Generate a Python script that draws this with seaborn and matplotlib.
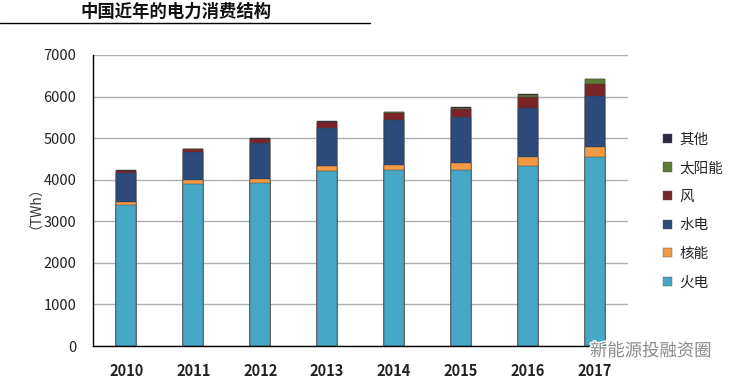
import numpy as np
import pandas as pd
import matplotlib
matplotlib.use("Agg")
import matplotlib.pyplot as plt
import seaborn as sns
from matplotlib.patches import Patch
import matplotlib.patheffects as pe

sns.set_style("white")
plt.rcParams['font.family'] = ['Noto Sans CJK SC', 'DejaVu Sans']

years = ['2010', '2011', '2012', '2013', '2014', '2015', '2016', '2017']
thermal = [3400, 3900, 3925, 4215, 4225, 4230, 4330, 4545]
nuclear = [75, 87, 98, 112, 133, 171, 213, 248]
hydro = [695, 673, 852, 910, 1079, 1116, 1190, 1221]
wind = [45, 72, 100, 140, 160, 180, 245, 290]
solar = [1, 3, 4, 9, 23, 39, 65, 118]
other = [10, 10, 15, 15, 10, 15, 10, 10]

names = ['火电', '核能', '水电', '风', '太阳能', '其他']
colors = ['#46a8c6', '#f39a45', '#2c4a7a', '#7a2428', '#5e7a35', '#2a2b40']

df = pd.DataFrame({'year': years, '火电': thermal, '核能': nuclear, '水电': hydro,
                   '风': wind, '太阳能': solar, '其他': other})
cum = df[names].cumsum(axis=1)

fig = plt.figure(figsize=(7.4, 3.84), dpi=100)
ax = fig.add_axes([93 / 740, 1 - 346 / 384, (628 - 93) / 740, (346 - 55) / 384])

# draw cumulative totals from the top layer down so each covers the one above
for name, col in reversed(list(zip(names, colors))):
    sns.barplot(x=df['year'], y=cum[name], color=col, width=0.3, ax=ax,
                edgecolor='#3a3a3a', linewidth=0.3, saturation=1)

ax.set_ylim(0, 7000)
ax.set_xlim(-0.5, 7.5)
ax.set_yticks(range(0, 7001, 1000))
ax.yaxis.grid(True, color='#b0b0b0', linewidth=1)
ax.set_axisbelow(True)
for s in ['top', 'right']:
    ax.spines[s].set_visible(False)
for s in ['left', 'bottom']:
    ax.spines[s].set_color('black')
    ax.spines[s].set_linewidth(1)
ax.tick_params(axis='both', length=0, labelsize=10.5, colors='#222222')
ax.tick_params(axis='y', pad=12)
ax.tick_params(axis='x', pad=12)
for lb in ax.get_xticklabels():
    lb.set_fontweight('bold')
ax.set_xlabel('')
ax.set_ylabel('（TWh）', fontsize=10, color='#333333')
ax.yaxis.set_label_coords(-(93 - 36) / (628 - 93), 0.5)

handles = [Patch(facecolor=c, edgecolor='#555555', linewidth=0.3, label=n)
           for n, c in zip(names, colors)]
fig.legend(handles=handles[::-1], loc='center left', bbox_to_anchor=(650 / 740, 1 - 211 / 384),
           frameon=False, fontsize=10.5, handlelength=0.6, handleheight=0.6,
           labelspacing=1.0, handletextpad=0.5)

fig.text(80 / 740, 1 - 12 / 384, '中国近年的电力消费结构', fontsize=12.5,
         fontweight='bold', va='center', ha='left', color='#111111')
fig.add_artist(plt.Line2D([0, 370 / 740], [1 - 23 / 384, 1 - 23 / 384],
                          color='black', linewidth=1))
fig.text(590 / 740, 1 - 351 / 384, '新能源投融资圈', fontsize=12.5, color='#8a8a8a',
         va='center', ha='left',
         path_effects=[pe.withStroke(linewidth=2, foreground='white')])

fig.savefig('out.png', dpi=100)
